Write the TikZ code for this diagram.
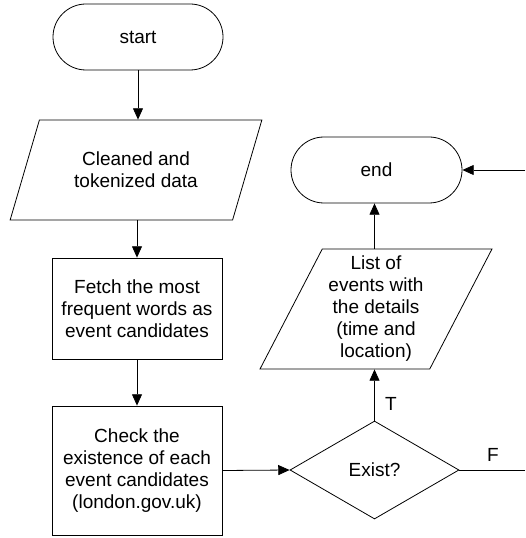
\documentclass[tikz,border=0pt]{standalone}
\usepackage{fontspec}
\setmainfont{Liberation Sans}
\usetikzlibrary{arrows.meta,shapes.geometric}

\begin{document}
\begin{tikzpicture}[x=0.75pt,y=0.75pt,line width=0.6pt,
    every node/.style={font=\fontsize{14.25}{16.5}\selectfont,align=center,inner sep=0pt},
    term/.style={draw,rectangle,rounded corners=24.75pt,minimum width=127.5pt,minimum height=49.5pt},
    io/.style={draw,trapezium,trapezium left angle=62.5,trapezium right angle=117.5,trapezium stretches},
    proc/.style={draw,rectangle,minimum width=127.5pt},
    dec/.style={draw,diamond,minimum width=126.75pt,minimum height=73.5pt},
    arr/.style={-{Triangle[length=8.5pt,width=7.5pt]}}]
            \useasboundingbox (0,0) rectangle (525,-538);
            \node [term] (start) at (138,-37) {start};
            \node [io,minimum width=189pt,minimum height=75pt] (data) at (136,-170) {Cleaned and\\tokenized data};
            \node [proc,minimum height=75.75pt] (fetch) at (137,-308.5) {Fetch the most\\frequent words as\\event candidates};
            \node [proc,minimum height=96.75pt] (check) at (137,-470.5) {Check the\\existence of each\\event candidates\\(london.gov.uk)};
            \node [dec] (exist) at (374.5,-470) {Exist?};
            \node [io,minimum width=174pt,minimum height=90pt] (list) at (376,-309) {List of\\events with\\the details\\(time and\\location)};
            \node [term,minimum width=128.25pt] (stop) at (376.5,-170) {end};
            \coordinate (fout) at (525,-470);
            \coordinate (fin) at (525,-170);
            \draw [arr] (start.south) -- (start.south |- data.north);
            \draw [arr] (fetch.north |- data.south) -- (fetch.north);
            \draw [arr] (fetch) -- (check);
            \draw [arr] (check.east) -- (exist.west);
            \draw [arr] (exist.north) -- (exist.north |- list.south);
            \node (tlabel) at (391,-404) {T};
            \draw [arr] (list.north -| exist.north) -- (stop.south -| exist.north);
            \draw (exist.east) -- (fout);
            \node (flabel) at (493,-455) {F};
            \draw [arr] (fin) -- (stop.east);
\end{tikzpicture}
\end{document}
